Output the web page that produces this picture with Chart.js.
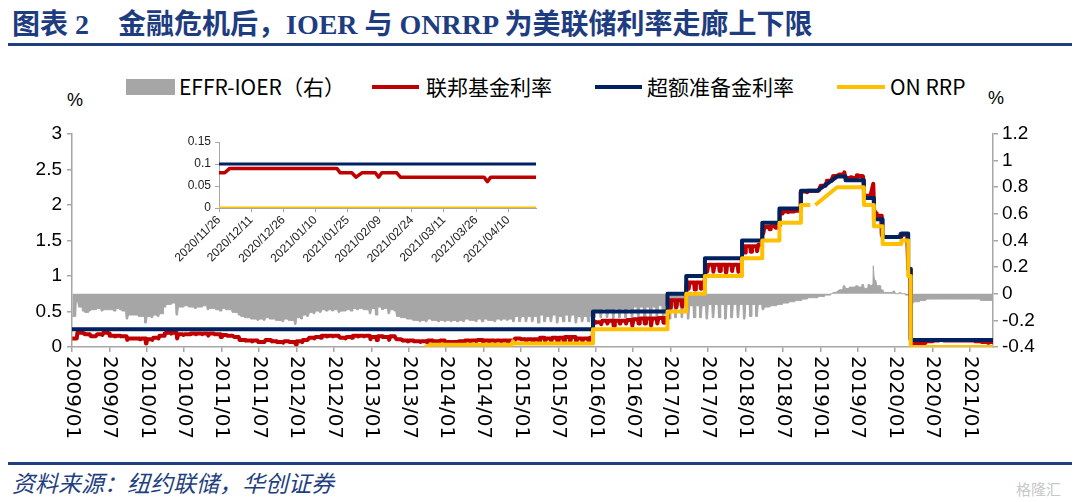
<!DOCTYPE html>
<html>
<head>
<meta charset="utf-8">
<script src="https://cdn.jsdelivr.net/npm/chart.js@4"></script>
<style>
  body { margin: 0; width: 1080px; height: 502px; background: #fff; position: relative; overflow: hidden; }
  .abs { position: absolute; white-space: nowrap; }
  .title { color: #1e3c80; font-weight: bold; font-size: 28px; font-family: "Liberation Serif", "Noto Sans CJK SC", serif; top: 8px; line-height: 34px; }
  .rule { position: absolute; left: 8px; width: 1064px; height: 3px; background: #1f3f7f; }
  .lg { font-family: "Liberation Sans Narrow", "Noto Sans CJK SC", sans-serif; font-size: 21px; color: #000; top: 73px; line-height: 26px; }
  .pct { font-family: "Liberation Sans", sans-serif; font-size: 18px; color: #000; }
</style>
</head>
<body>
<div class="abs title" style="left:12px">图表 2</div>
<div class="abs title" style="left:118px">金融危机后，IOER 与 ONRRP 为美联储利率走廊上下限</div>
<div class="rule" style="top:43px"></div>

<div class="abs" style="left:126px;top:79px;width:49px;height:16px;background:#a6a6a6"></div>
<div class="abs lg" style="left:179px">EFFR-IOER（右）</div>
<div class="abs" style="left:372px;top:85px;width:47px;height:4px;background:#c00000"></div>
<div class="abs lg" style="left:426px">联邦基金利率</div>
<div class="abs" style="left:595px;top:85px;width:47px;height:4px;background:#002060"></div>
<div class="abs lg" style="left:647px">超额准备金利率</div>
<div class="abs" style="left:837px;top:85px;width:48px;height:4px;background:#ffc000"></div>
<div class="abs lg" style="left:890px">ON RRP</div>

<div class="abs pct" style="left:67px;top:90px">%</div>
<div class="abs pct" style="left:988px;top:88px">%</div>

<div class="abs" style="left:0;top:110px;width:1080px;height:345px"><canvas id="mainChart"></canvas></div>
<div class="abs" style="left:170px;top:125px;width:380px;height:150px"><canvas id="insetChart"></canvas></div>

<div class="rule" style="top:462px"></div>
<div class="abs" style="left:12px;top:468px;font-size:23px;line-height:28px;font-style:italic;color:#1f3f7f;font-family:'Noto Sans CJK SC',sans-serif">资料来源：纽约联储，华创证券</div>
<div class="abs" style="left:1016px;top:478px;font-size:15px;color:#c8c8c8;font-family:'Noto Sans CJK SC',sans-serif">格隆汇</div>

<script>
'use strict'
// x axis of the main chart: months since 2009/01
const xTickLabels = ['2009/01', '2009/07', '2010/01', '2010/07', '2011/01', '2011/07', '2012/01', '2012/07',
  '2013/01', '2013/07', '2014/01', '2014/07', '2015/01', '2015/07', '2016/01', '2016/07', '2017/01',
  '2017/07', '2018/01', '2018/07', '2019/01', '2019/07', '2020/01', '2020/07', '2021/01']
const leftTickLabels = ['0', '0.5', '1', '1.5', '2', '2.5', '3']
const rightTickLabels = ['-0.4', '-0.2', '0', '0.2', '0.4', '0.6', '0.8', '1', '1.2']

// 联邦基金利率, one level per month (2009/01 .. 2021/04) and the month-end print
const effrBase = [
  0.12, 0.20, 0.18, 0.15, 0.18, 0.20, 0.16, 0.16, 0.15, 0.12, 0.12, 0.12,
  0.11, 0.13, 0.16, 0.20, 0.20, 0.18, 0.18, 0.19, 0.19, 0.19, 0.19, 0.18,
  0.17, 0.16, 0.14, 0.10, 0.09, 0.09, 0.07, 0.10, 0.08, 0.07, 0.08, 0.07,
  0.08, 0.10, 0.13, 0.14, 0.16, 0.16, 0.16, 0.13, 0.14, 0.16, 0.16, 0.16,
  0.14, 0.15, 0.14, 0.15, 0.11, 0.09, 0.09, 0.08, 0.08, 0.09, 0.08, 0.09,
  0.07, 0.07, 0.08, 0.09, 0.09, 0.10, 0.09, 0.09, 0.09, 0.09, 0.09, 0.12,
  0.11, 0.11, 0.11, 0.13, 0.12, 0.13, 0.13, 0.14, 0.14, 0.12, 0.12, 0.13,
  0.35, 0.37, 0.37, 0.37, 0.37, 0.38, 0.39, 0.40, 0.40, 0.40, 0.41, 0.41,
  0.66, 0.66, 0.66, 0.91, 0.91, 0.91, 1.16, 1.16, 1.16, 1.16, 1.16, 1.16,
  1.42, 1.42, 1.44, 1.69, 1.70, 1.71, 1.91, 1.91, 1.92, 2.19, 2.20, 2.20,
  2.27, 2.34, 2.41, 2.43, 2.38, 2.38, 2.41, 2.13, 2.13, 1.85, 1.55, 1.55,
  1.55, 1.58, 0.10, 0.05, 0.05, 0.08, 0.09, 0.10, 0.09, 0.09, 0.09, 0.09,
  0.09, 0.08, 0.07, 0.07
]
const effrEnd = [
  0.20, 0.19, 0.17, 0.16, 0.17, 0.19, 0.15, 0.15, 0.10, 0.12, 0.11, 0.05,
  0.10, 0.12, 0.19, 0.19, 0.12, 0.17, 0.18, 0.18, 0.18, 0.16, 0.18, 0.14,
  0.16, 0.15, 0.10, 0.09, 0.08, 0.07, 0.07, 0.09, 0.07, 0.06, 0.07, 0.04,
  0.07, 0.11, 0.12, 0.13, 0.15, 0.15, 0.14, 0.12, 0.13, 0.15, 0.15, 0.11,
  0.10, 0.14, 0.10, 0.13, 0.10, 0.08, 0.08, 0.07, 0.07, 0.08, 0.07, 0.06,
  0.06, 0.06, 0.07, 0.08, 0.08, 0.08, 0.08, 0.08, 0.08, 0.08, 0.07, 0.12,
  0.08, 0.08, 0.06, 0.08, 0.08, 0.06, 0.08, 0.08, 0.06, 0.08, 0.08, 0.34,
  0.32, 0.33, 0.30, 0.33, 0.33, 0.30, 0.33, 0.33, 0.30, 0.33, 0.34, 0.55,
  0.56, 0.57, 0.82, 0.81, 0.82, 1.06, 1.06, 1.07, 1.05, 1.07, 1.06, 1.33,
  1.34, 1.35, 1.60, 1.66, 1.68, 1.88, 1.90, 1.91, 2.18, 2.18, 2.20, 2.23,
  2.30, 2.37, 2.42, 2.46, 2.39, 2.42, 2.40, 2.12, 1.88, 1.58, 1.55, 1.55,
  1.59, 1.58, 0.05, 0.05, 0.06, 0.08, 0.09, 0.09, 0.09, 0.09, 0.09, 0.09,
  0.08, 0.07, 0.06, 0.07
]
// months with a policy move inside them: [month, rate]
const effrMoves = [
  [83.05, 0.13], [83.5, 0.13], [83.6, 0.36], [83.8, 0.36],
  [95.05, 0.41], [95.45, 0.41], [95.55, 0.66], [95.8, 0.66],
  [98.05, 0.66], [98.45, 0.66], [98.55, 0.91], [98.8, 0.91],
  [101.05, 0.91], [101.45, 0.91], [101.55, 1.16], [101.8, 1.16],
  [107.05, 1.16], [107.4, 1.16], [107.5, 1.42], [107.8, 1.42],
  [110.05, 1.44], [110.65, 1.44], [110.75, 1.68], [110.8, 1.68],
  [113.05, 1.71], [113.4, 1.71], [113.5, 1.91], [113.8, 1.91],
  [116.05, 1.92], [116.78, 1.92], [116.84, 2.18],
  [128.05, 2.13], [128.5, 2.30], [128.6, 2.30], [128.65, 1.90], [128.8, 1.90],
  [134.05, 1.58], [134.1, 1.10], [134.45, 1.10], [134.5, 0.12], [134.8, 0.10]
]

// EFFR-IOER（右）
const spreadBase = [
  -0.17, -0.10, -0.14, -0.12, -0.11, -0.12, -0.12, -0.11, -0.13, -0.16, -0.16, -0.17,
  -0.17, -0.16, -0.15, -0.08, -0.07, -0.10, -0.09, -0.10, -0.10, -0.09, -0.11, -0.12,
  -0.11, -0.12, -0.14, -0.17, -0.18, -0.19, -0.19, -0.18, -0.19, -0.20, -0.19, -0.20,
  -0.18, -0.16, -0.14, -0.13, -0.12, -0.12, -0.12, -0.13, -0.12, -0.11, -0.11, -0.12,
  -0.11, -0.10, -0.11, -0.12, -0.17, -0.18, -0.19, -0.20, -0.20, -0.19, -0.20, -0.20,
  -0.20, -0.20, -0.20, -0.19, -0.20, -0.19, -0.19, -0.20, -0.19, -0.19, -0.19, -0.17,
  -0.17, -0.17, -0.17, -0.16, -0.17, -0.16, -0.17, -0.16, -0.16, -0.17, -0.17, -0.17,
  -0.12, -0.11, -0.12, -0.11, -0.11, -0.11, -0.10, -0.10, -0.10, -0.10, -0.09, -0.09,
  -0.09, -0.09, -0.09, -0.09, -0.09, -0.09, -0.08, -0.08, -0.08, -0.08, -0.08, -0.08,
  -0.08, -0.08, -0.08, -0.10, -0.09, -0.08, -0.07, -0.06, -0.05, -0.04, -0.03, -0.03,
  -0.02, -0.01, 0.01, 0.03, 0.04, 0.05, 0.05, 0.04, 0.06, 0.06, 0.01, 0.01,
  0.00, 0.00, -0.05, -0.06, -0.05, -0.04, -0.04, -0.04, -0.04, -0.04, -0.04, -0.04,
  -0.04, -0.04, -0.05, -0.05
]
const spreadEnd = [
  -0.06, -0.13, -0.13, -0.12, -0.13, -0.12, -0.13, -0.12, -0.19, -0.16, -0.17, -0.22,
  -0.18, -0.17, -0.10, -0.08, -0.16, -0.10, -0.10, -0.11, -0.10, -0.12, -0.11, -0.13,
  -0.12, -0.14, -0.16, -0.18, -0.19, -0.20, -0.20, -0.19, -0.20, -0.21, -0.20, -0.23,
  -0.19, -0.17, -0.15, -0.14, -0.13, -0.13, -0.14, -0.13, -0.13, -0.12, -0.12, -0.15,
  -0.16, -0.12, -0.15, -0.13, -0.18, -0.19, -0.20, -0.21, -0.21, -0.20, -0.21, -0.21,
  -0.21, -0.21, -0.21, -0.20, -0.21, -0.21, -0.20, -0.21, -0.20, -0.20, -0.21, -0.21,
  -0.21, -0.21, -0.22, -0.21, -0.21, -0.22, -0.21, -0.21, -0.22, -0.21, -0.21, -0.18,
  -0.18, -0.18, -0.19, -0.18, -0.18, -0.19, -0.18, -0.18, -0.19, -0.18, -0.18, -0.19,
  -0.18, -0.18, -0.19, -0.18, -0.18, -0.19, -0.18, -0.18, -0.19, -0.18, -0.18, -0.19,
  -0.17, -0.17, -0.12, -0.10, -0.09, -0.08, -0.07, -0.06, -0.05, -0.04, -0.03, -0.02,
  -0.01, 0.00, 0.02, 0.06, 0.05, 0.06, 0.07, 0.07, 0.10, 0.03, 0.01, 0.02,
  0.01, -0.01, -0.07, -0.06, -0.05, -0.04, -0.04, -0.04, -0.04, -0.04, -0.04, -0.04,
  -0.04, -0.05, -0.05, -0.05
]
const spreadMoves = [
  [128.05, 0.06], [128.45, 0.07], [128.5, 0.21], [128.58, 0.21], [128.63, 0.12],
  [134.05, -0.01], [134.45, -0.01], [134.55, -0.06]
]

// 超额准备金利率 and ON RRP, vertices [month, rate]
const ioerPoints = [
  [0, 0.25], [83.55, 0.25], [83.55, 0.5], [95.5, 0.5], [95.5, 0.75], [98.5, 0.75], [98.5, 1.0],
  [101.5, 1.0], [101.5, 1.25], [107.45, 1.25], [107.45, 1.5], [110.7, 1.5], [110.7, 1.75],
  [113.45, 1.75], [113.45, 1.95], [116.9, 1.95], [116.9, 2.2], [119.5, 2.2], [122.7, 2.4],
  [124.05, 2.4], [124.05, 2.35], [127.0, 2.35], [127.0, 2.1], [128.6, 2.1], [128.6, 1.8],
  [130.0, 1.8], [130.0, 1.55], [133.0, 1.55], [133.0, 1.6], [134.1, 1.6], [134.1, 1.1],
  [134.5, 1.1], [134.5, 0.1], [147.8, 0.1]
]
const rrpPoints = [
  [56.6, 0.0], [57.6, 0.03], [70.5, 0.03], [70.7, 0.08], [71.0, 0.05], [83.55, 0.05],
  [83.55, 0.25], [95.5, 0.25], [95.5, 0.5], [98.5, 0.5], [98.5, 0.75], [101.5, 0.75],
  [101.5, 1.0], [107.45, 1.0], [107.45, 1.25], [110.7, 1.25], [110.7, 1.5], [113.45, 1.5],
  [113.45, 1.75], [116.9, 1.75], [116.9, 2.0], [118.4, 2.0], [118.8, null], [119.2, 2.0],
  [122.7, 2.25], [127.0, 2.25], [127.0, 2.0], [128.6, 2.0], [128.6, 1.7], [130.0, 1.7],
  [130.0, 1.45], [133.0, 1.45], [133.0, 1.5], [134.1, 1.5], [134.1, 1.0], [134.5, 1.0],
  [134.5, 0.0], [147.8, 0.0]
]

// inset: days since 2020/11/26
const insetTickLabels = ['2020/11/26', '2020/12/11', '2020/12/26', '2021/01/10', '2021/01/25',
  '2021/02/09', '2021/02/24', '2021/03/11', '2021/03/26', '2021/04/10']
const insetYLabels = ['0', '0.05', '0.1', '0.15']
const insetEffr = [
  [0, 0.08], [2.7, 0.08], [5, 0.09], [55, 0.09], [56.6, 0.08], [62, 0.08], [64, 0.07],
  [66.7, 0.08], [73, 0.08], [74.5, 0.07], [76, 0.08], [83, 0.08], [84.7, 0.07],
  [123.7, 0.07], [125.3, 0.06], [126.9, 0.07], [148, 0.07]
]
const insetIoer = [[0, 0.1], [148, 0.1]]
const insetRrp = [[0, 0], [148, 0]]

const RED = '#c00000'
const NAVY = '#002060'
const GOLD = '#ffc000'
const GREY = '#a6a6a6'
const AXIS = '#a6a6a6'

const toXY = (pairs) => pairs.map((p) => ({ x: p[0], y: p[1] }))

// a month is drawn as a flat level, then the month-end print
function monthSeries(base, end, moves, basePos, endPos) {
  const moved = new Set(moves.map((p) => Math.floor(p[0])))
  const pts = []
  base.forEach((v, i) => {
    if (moved.has(i)) {
      moves.filter((p) => Math.floor(p[0]) === i).forEach((p) => pts.push({ x: p[0], y: p[1] }))
    } else {
      basePos.forEach((o) => pts.push({ x: i + o, y: v }))
    }
    endPos.forEach((o) => pts.push({ x: i + o, y: end[i] }))
  })
  return pts
}

const effrData = monthSeries(effrBase, effrEnd, effrMoves, [0.05, 0.76], [0.86, 0.94])
const spreadData = monthSeries(spreadBase, spreadEnd, spreadMoves, [0.05, 0.6], [0.68, 0.92])

// x labels read top-to-bottom (rotated clockwise)
const verticalLabels = {
  id: 'verticalLabels',
  afterDraw(chart) {
    const sc = chart.scales.x
    const ctx = chart.ctx
    ctx.save()
    ctx.font = '20px "DejaVu Sans"'
    ctx.fillStyle = '#000'
    ctx.textAlign = 'left'
    ctx.textBaseline = 'middle'
    sc.ticks.forEach((t, i) => {
      ctx.save()
      ctx.translate(sc.getPixelForValue(t.value), sc.top + 9)
      ctx.rotate(Math.PI / 2)
      ctx.fillText(xTickLabels[i], 0, 0)
      ctx.restore()
    })
    ctx.restore()
  }
}

const axisGrid = { drawOnChartArea: false, drawTicks: true, tickLength: 5, color: AXIS, lineWidth: 1.5 }
const axisBorder = { color: AXIS, width: 1.5 }

new Chart(document.getElementById('mainChart'), {
  type: 'line',
  data: {
    datasets: [
      { label: 'ON RRP', data: toXY(rrpPoints), borderColor: GOLD, borderWidth: 4, yAxisID: 'y', order: 0 },
      { label: '超额准备金利率', data: toXY(ioerPoints), borderColor: NAVY, borderWidth: 4, yAxisID: 'y', order: 1 },
      { label: '联邦基金利率', data: effrData, borderColor: RED, borderWidth: 4, yAxisID: 'y', order: 2 },
      {
        label: 'EFFR-IOER（右）', data: spreadData, borderColor: GREY, backgroundColor: GREY,
        borderWidth: 1, fill: 'origin', yAxisID: 'y1', order: 3
      }
    ]
  },
  options: {
    responsive: true,
    maintainAspectRatio: false,
    animation: false,
    elements: { point: { radius: 0 }, line: { tension: 0, borderJoinStyle: 'round', borderCapStyle: 'butt' } },
    layout: { padding: { top: 24 } },
    plugins: { legend: { display: false }, tooltip: { enabled: false } },
    scales: {
      x: {
        type: 'linear', min: 0, max: 147.7,
        afterBuildTicks: (sc) => { sc.ticks = xTickLabels.map((_, i) => ({ value: i * 6 })) },
        afterFit: (sc) => { sc.height = 108 },
        ticks: { display: false },
        grid: axisGrid, border: axisBorder
      },
      y: {
        position: 'left', min: 0, max: 3,
        afterBuildTicks: (sc) => { sc.ticks = leftTickLabels.map((l) => ({ value: parseFloat(l) })) },
        afterFit: (sc) => { sc.width = 72 },
        ticks: { callback: (v, i) => leftTickLabels[i], color: '#000', padding: 5, font: { family: 'Liberation Sans', size: 19 } },
        grid: axisGrid, border: axisBorder
      },
      y1: {
        position: 'right', min: -0.4, max: 1.2,
        afterBuildTicks: (sc) => { sc.ticks = rightTickLabels.map((l) => ({ value: parseFloat(l) })) },
        afterFit: (sc) => { sc.width = 87 },
        ticks: { callback: (v, i) => rightTickLabels[i], color: '#000', padding: 4, font: { family: 'Liberation Sans', size: 19 } },
        grid: axisGrid, border: axisBorder
      }
    }
  },
  plugins: [verticalLabels]
})

new Chart(document.getElementById('insetChart'), {
  type: 'line',
  data: {
    datasets: [
      { data: toXY(insetRrp), borderColor: GOLD, borderWidth: 3, order: 0 },
      { data: toXY(insetIoer), borderColor: NAVY, borderWidth: 3, order: 1 },
      { data: toXY(insetEffr), borderColor: RED, borderWidth: 3.5, order: 2 }
    ]
  },
  options: {
    responsive: true,
    maintainAspectRatio: false,
    animation: false,
    elements: { point: { radius: 0 }, line: { tension: 0, borderJoinStyle: 'round' } },
    layout: { padding: { top: 17, right: 14 } },
    plugins: { legend: { display: false }, tooltip: { enabled: false } },
    scales: {
      x: {
        type: 'linear', min: 0, max: 148,
        afterBuildTicks: (sc) => { sc.ticks = insetTickLabels.map((_, i) => ({ value: i * 15 })) },
        afterFit: (sc) => { sc.height = 67 },
        ticks: { callback: (v, i) => insetTickLabels[i], minRotation: 45, maxRotation: 45, color: '#222', padding: 1, font: { family: 'Liberation Sans', size: 12 } },
        grid: { drawOnChartArea: false, tickLength: 4, color: AXIS }, border: { color: AXIS }
      },
      y: {
        min: 0, max: 0.15,
        afterBuildTicks: (sc) => { sc.ticks = insetYLabels.map((l) => ({ value: parseFloat(l) })) },
        afterFit: (sc) => { sc.width = 49 },
        ticks: { callback: (v, i) => insetYLabels[i], color: '#222', padding: 4, font: { family: 'Liberation Sans', size: 12 } },
        grid: { drawOnChartArea: false, tickLength: 4, color: AXIS }, border: { color: AXIS }
      }
    }
  }
})
</script>
</body>
</html>
